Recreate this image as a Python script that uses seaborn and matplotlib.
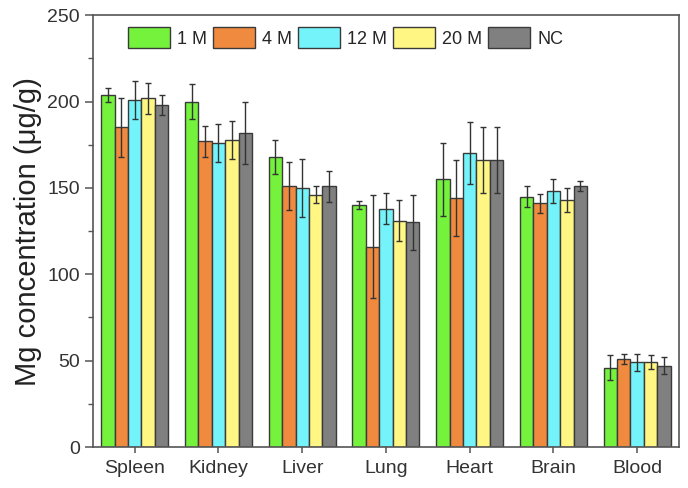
import numpy as np
import pandas as pd
import matplotlib
matplotlib.use('Agg')
import matplotlib.pyplot as plt
from matplotlib.ticker import MultipleLocator
import seaborn as sns

organi = ['Spleen', 'Kidney', 'Liver', 'Lung', 'Heart', 'Brain', 'Blood']
gruppi = ['1 M', '4 M', '12 M', '20 M', 'NC']

# valori medi (ug/g)
media_1m = [204, 200, 168, 140, 155, 145, 46]
media_4m = [185, 177, 151, 116, 144, 141, 51]
media_12m = [201, 176, 150, 138, 170, 148, 49]
media_20m = [202, 178, 146, 131, 166, 143, 49]
media_nc = [198, 182, 151, 130, 166, 151, 47]

# barre di errore (deviazione standard)
err_1m = [4, 10, 10, 2.5, 21, 6, 7]
err_4m = [17, 9, 14, 30, 22, 5.5, 3]
err_12m = [11, 11, 17, 9, 18, 7, 5]
err_20m = [9, 11, 5, 12, 19, 7, 4]
err_nc = [6, 18, 9, 16, 19, 3, 5]

colori = ['#74F23C', '#F08A3E', '#74F4FA', '#FFF683', '#808080']

medie = [media_1m, media_4m, media_12m, media_20m, media_nc]
errori = [err_1m, err_4m, err_12m, err_20m, err_nc]

righe = []
for g, m in zip(gruppi, medie):
    for o, v in zip(organi, m):
        righe.append({'organo': o, 'gruppo': g, 'valore': v})
df = pd.DataFrame(righe)

sns.set_style('ticks')
plt.rcParams['font.family'] = ['Liberation Sans', 'DejaVu Sans']

fig = plt.figure(figsize=(6.88, 4.88), dpi=100)
ax = fig.add_axes([0.135, 0.084, 0.852, 0.885])

sns.barplot(data=df, x='organo', y='valore', hue='gruppo', order=organi,
            hue_order=gruppi, palette=colori, errorbar=None,
            edgecolor='#3a3a3a', linewidth=1, width=0.8, saturation=1, ax=ax)

# barre di errore sopra le colonne
for cont, m, e in zip(ax.containers, medie, errori):
    xs = [b.get_x() + b.get_width() / 2 for b in cont]
    ax.errorbar(xs, m, yerr=e, fmt='none', ecolor='#333333',
                elinewidth=1, capsize=2.2, capthick=1, zorder=5)

ax.set_xlim(-0.5, 6.5)
ax.set_ylim(0, 250)
ax.yaxis.set_major_locator(MultipleLocator(50))
ax.yaxis.set_minor_locator(MultipleLocator(25))
ax.set_xlabel('')
ax.set_ylabel('Mg concentration (μg/g)', fontsize=21, color='#222222', labelpad=4)

for s in ax.spines.values():
    s.set_visible(True)
    s.set_color('#555555')
    s.set_linewidth(1.2)

ax.tick_params(axis='both', which='major', labelsize=14, colors='#555555',
               labelcolor='#333333', width=1.1)
ax.tick_params(axis='y', which='major', length=6, direction='out')
ax.tick_params(axis='y', which='minor', length=3.5, width=1.0, colors='#555555')
ax.tick_params(axis='x', which='major', length=4, direction='out', pad=5)

h, l = ax.get_legend_handles_labels()
ax.legend(h, l, ncol=5, frameon=False, loc='upper left',
          bbox_to_anchor=(0.06, 0.972), handlelength=2.3, handleheight=1.4,
          handletextpad=0.4, columnspacing=0.35, fontsize=13,
          borderaxespad=0, borderpad=0)

fig.savefig('out.png', dpi=100)
